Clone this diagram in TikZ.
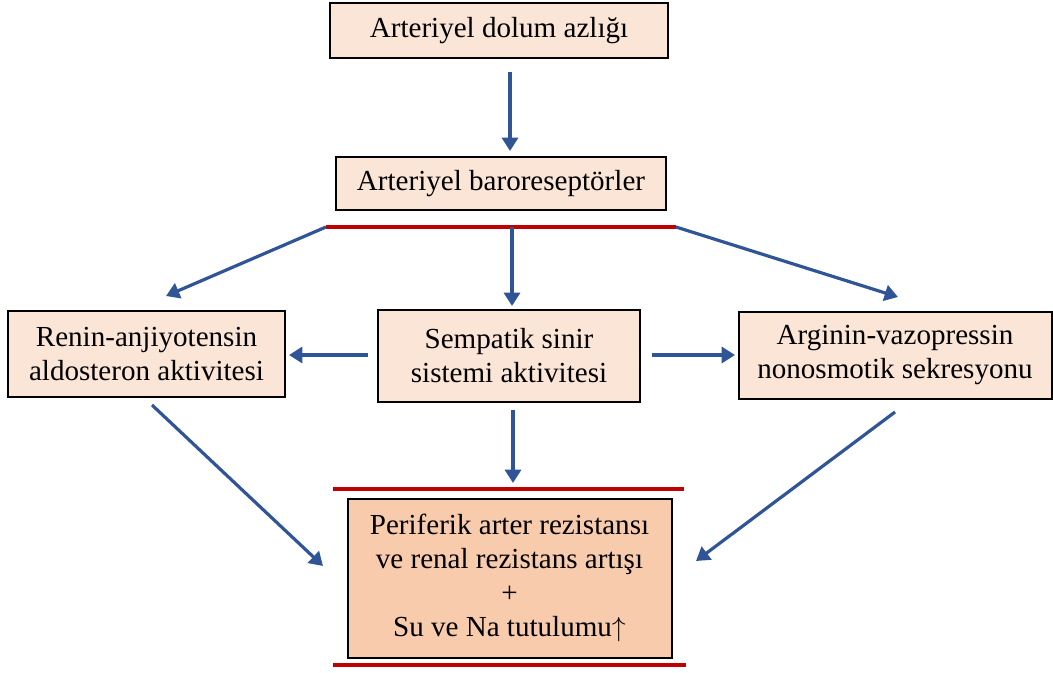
\documentclass[tikz,border=0pt]{standalone}
\usepackage{fontspec}
\setmainfont{Liberation Serif}
\usetikzlibrary{arrows.meta}
\definecolor{boxfill}{HTML}{FBE5D6}
\definecolor{boxfilldark}{HTML}{F8CBAD}
\definecolor{flowblue}{HTML}{2F5597}
\definecolor{barred}{HTML}{C00000}
\begin{document}
\begin{tikzpicture}[x=0.75pt,y=-0.75pt,
  box/.style={draw=black,line width=1.5pt,fill=boxfill,inner sep=0pt,align=center,
    font=\fontsize{21.8}{25.5}\selectfont},
  flow/.style={draw=flowblue,line width=2.4pt,-{Triangle[width=12pt,length=10pt]}},
  bar/.style={draw=barred,line width=2.4pt}]
\useasboundingbox (0,0) rectangle (1053,672);

% boxes
\node[box,minimum width=253.5pt,minimum height=41.25pt] (fill) at (499,30.5) {Arteriyel dolum azlığı};
\node[box,minimum width=247.5pt,minimum height=39.75pt] (baro) at (501,183.5) {Arteriyel baroreseptörler};
\node[box,minimum width=207.75pt,minimum height=64.5pt] (raas) at (146.5,354) {Renin-anjiyotensin\\aldosteron aktivitesi};
\node[box,minimum width=196.5pt,minimum height=69pt] (sns) at (509,356) {Sempatik sinir\\sistemi aktivitesi};
\node[box,minimum width=234.75pt,minimum height=65.25pt] (avp) at (895,355) {Arginin-vazopressin\\nonosmotik sekresyonu};
\node[box,fill=boxfilldark,minimum width=243pt,minimum height=119.25pt] (res) at (509.5,578)
  {Periferik arter rezistansı\\ve renal rezistans artışı\\+\\Su ve Na tutulumu$\uparrow$};

% red bars
\coordinate (splitL) at (326,227);
\coordinate (splitM) at (512,227);
\coordinate (splitR) at (676,227);
\draw[bar] (splitL) -- (splitR);
\coordinate (resTopL) at (333,489);
\coordinate (resTopR) at (684,489);
\coordinate (resBotL) at (333,665);
\coordinate (resBotR) at (686,665);
\draw[bar] (resTopL) -- (resTopR);
\draw[bar] (resBotL) -- (resBotR);

% arrow end points
\coordinate (a1s) at (510,72);
\coordinate (a1e) at (510,151);
\coordinate (aLe) at (166,296);
\coordinate (aMe) at (512,306);
\coordinate (aRe) at (898,297);
\coordinate (hLs) at (368,355);
\coordinate (hLe) at (289,355);
\coordinate (hRs) at (652,355);
\coordinate (hRe) at (735,355);
\coordinate (dMs) at (513,410);
\coordinate (dMe) at (513,483);
\coordinate (dLs) at (152,405);
\coordinate (dLe) at (323,566);
\coordinate (dRs) at (895,412);
\coordinate (dRe) at (696,561);

% connectors
\draw[flow] (a1s) -- (a1e);
\draw[flow] (splitL) -- (aLe);
\draw[flow] (splitM) -- (aMe);
\draw[flow] (splitR) -- (aRe);
\draw[flow] (hLs) -- (hLe);
\draw[flow] (hRs) -- (hRe);
\draw[flow] (dMs) -- (dMe);
\draw[flow] (dLs) -- (dLe);
\draw[flow] (dRs) -- (dRe);
\end{tikzpicture}
\end{document}
